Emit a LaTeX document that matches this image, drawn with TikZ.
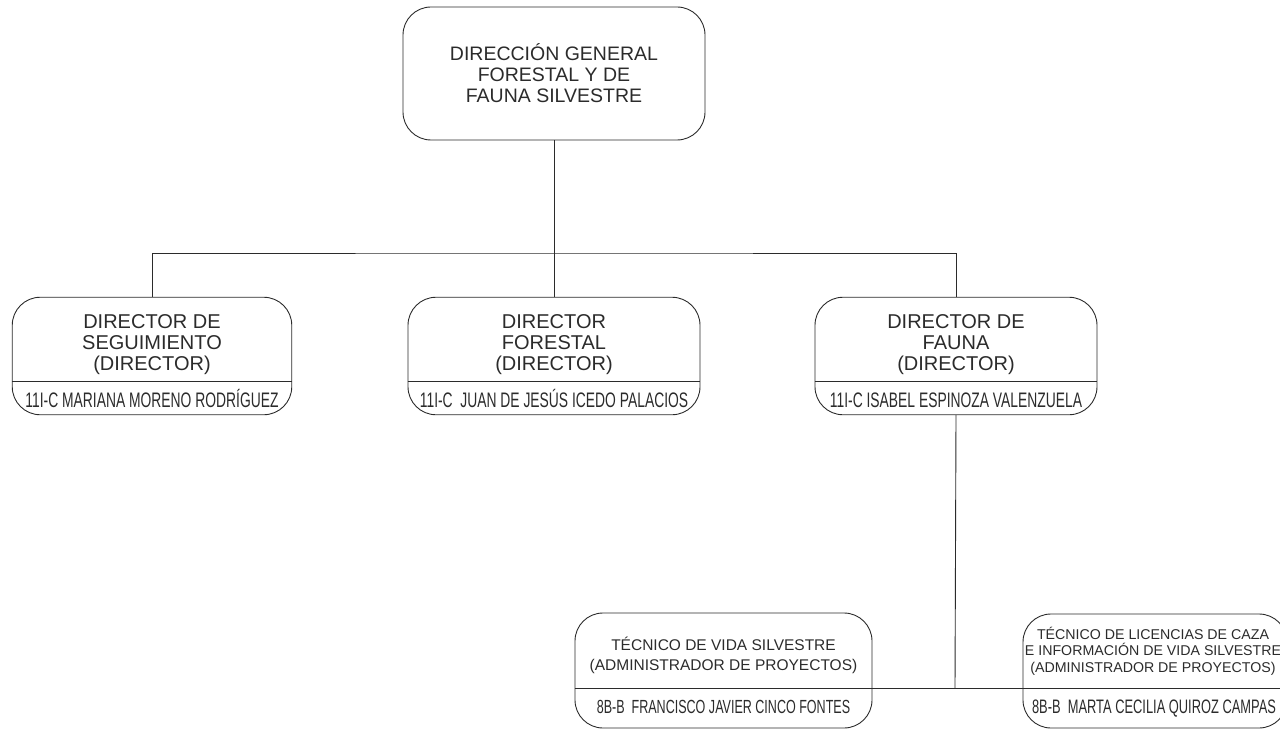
\documentclass[tikz,border=0pt]{standalone}
\usepackage{fontspec}
\setmainfont{Liberation Sans}
\newfontfamily\narrowfont[FakeStretch=0.66]{Liberation Sans}
\usepackage{tikz}
\usetikzlibrary{positioning}
\definecolor{ink}{HTML}{2B2B2B}

\begin{document}
\begin{tikzpicture}[x=1pt, y=-1pt, node distance=10pt,
    every node/.style={text=ink},
    frame/.style={draw=ink, line width=0.9pt, rounded corners=28pt},
    ttl/.style={inner sep=0pt, align=center},
    who/.style={inner sep=0pt, text depth=0pt},
    link/.style={draw=ink, line width=0.9pt},
    dirfont/.style={font=\fontsize{20}{21}\selectfont},
    dirname/.style={font=\narrowfont\fontsize{21}{21}\selectfont},
    tecfont/.style={font=\fontsize{15.5}{20}\selectfont},
    tecname/.style={font=\narrowfont\fontsize{19}{19}\selectfont}]
  \useasboundingbox (0,0) rectangle (1280,730);

  % direccion general
  \node [frame, align=center, minimum width=302pt, minimum height=133pt,
         font=\fontsize{19.5}{21}\selectfont] (dg) at (554,73.5)
        {DIRECCIÓN GENERAL\\FORESTAL Y DE\\FAUNA SILVESTRE};

  % directores
  \node [frame, minimum width=279.5pt, minimum height=117.5pt] (seg) at (152,356) {};
  \node [frame, minimum width=292pt, minimum height=117.5pt] (forestal) at (554,356) {};
  \node [frame, minimum width=282pt, minimum height=117.5pt] (fauna) at (956,356) {};

  \node [ttl, dirfont, below=17.5pt of seg.north] (segT) {DIRECTOR DE\\SEGUIMIENTO\\(DIRECTOR)};
  \node [ttl, dirfont, below=17.5pt of forestal.north] (forestalT) {DIRECTOR\\FORESTAL\\(DIRECTOR)};
  \node [ttl, dirfont, below=17.5pt of fauna.north] (faunaT) {DIRECTOR DE\\FAUNA\\(DIRECTOR)};

  \node [who, dirname, above=8pt of seg.south] (segN) {11I-C MARIANA MORENO RODRÍGUEZ};
  \node [who, dirname, above=8pt of forestal.south] (forestalN) {11I-C~~JUAN DE JESÚS ICEDO PALACIOS};
  \node [who, dirname, above=8pt of fauna.south] (faunaN) {11I-C ISABEL ESPINOZA VALENZUELA};

  \draw [link] ([yshift=34pt]seg.south west) -- ([yshift=34pt]seg.south east);
  \draw [link] ([yshift=34pt]forestal.south west) -- ([yshift=34pt]forestal.south east);
  \draw [link] ([yshift=34pt]fauna.south west) -- ([yshift=34pt]fauna.south east);

  % tecnicos
  \node [frame, minimum width=297pt, minimum height=115pt] (tvs) at (723.5,670.5) {};
  \node [frame, minimum width=264pt, minimum height=114pt] (tlc) at (1155,671) {};

  \node [ttl, tecfont, below=24pt of tvs.north] (tvsT) {TÉCNICO DE VIDA SILVESTRE\\(ADMINISTRADOR DE PROYECTOS)};
  \node [ttl, font=\fontsize{14.2}{16.5}\selectfont, below=13.4pt of tlc.north, xshift=-2pt] (tlcT)
        {TÉCNICO DE LICENCIAS DE CAZA\\E INFORMACIÓN DE VIDA SILVESTRE\\(ADMINISTRADOR DE PROYECTOS)};

  \node [who, tecname, above=15pt of tvs.south] (tvsN) {8B-B~~FRANCISCO JAVIER CINCO FONTES};
  \node [who, font=\narrowfont\fontsize{19.5}{19.5}\selectfont, above=15pt of tlc.south, xshift=-1pt] (tlcN)
        {8B-B~~MARTA CECILIA QUIROZ CAMPAS};

  \draw [link] ([yshift=40pt]tvs.south west) -- ([yshift=40pt]tvs.south east);
  \draw [link] ([yshift=40pt]tlc.south west) -- ([yshift=40pt]tlc.south east);

  % conectores
  \coordinate (bus) at (554,253);
  \coordinate (fj) at (955,688);
  \draw [link] (dg.south) -- (bus);
  \draw [link] (seg.north) |- (bus) -| (fauna.north);
  \draw [link] (bus) -- (forestal.north);
  \draw [link] (fauna.south) -- (fj);
  \draw [link] (tvs.east |- fj) -- (tlc.west |- fj);
\end{tikzpicture}
\end{document}
